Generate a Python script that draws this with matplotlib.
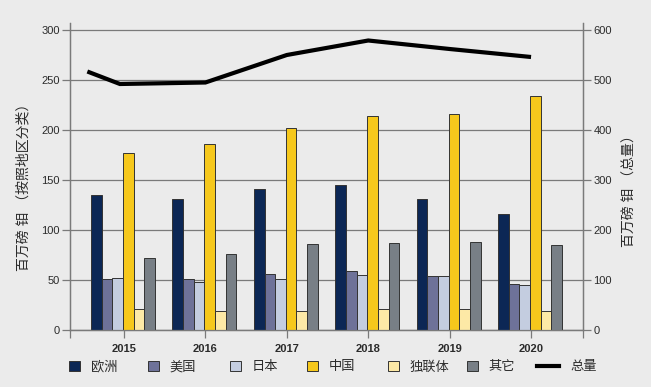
import numpy as np
import matplotlib
matplotlib.use("Agg")
import matplotlib.pyplot as plt
from matplotlib.patches import Patch
from matplotlib.lines import Line2D

plt.rcParams['font.family'] = ['Liberation Sans', 'Noto Sans CJK SC', 'DejaVu Sans']

# data
years = [2015, 2016, 2017, 2018, 2019, 2020]
series_names = ['欧洲', '美国', '日本', '中国', '独联体', '其它']
europe = [135, 131, 141, 145, 131, 116]
usa = [51, 51, 56, 59, 54, 46]
japan = [52, 48, 51, 55, 54, 45]
china = [177, 186, 202, 214, 216, 234]
cis = [21, 19, 19, 21, 21, 19]
other = [72, 76, 86, 87, 88, 85]
total_x = [2014.55, 2014.95, 2016, 2017, 2018, 2019, 2020]
total = [517, 492, 495, 550, 579, 562, 546]

colors = ['#0c2755', '#6e7299', '#c4cde0', '#f6c81c', '#fde9a6', '#787f86']
bg = '#ebebeb'
grid_col = '#7a7a7a'
text_col = '#2b2b2b'

fig = plt.figure(figsize=(6.51, 3.87), dpi=100, facecolor=bg)
ax = fig.add_axes([70 / 651, 1 - 330 / 387, 513 / 651, 307 / 387])
ax.set_facecolor(bg)
ax2 = ax.twinx()

width = 0.131
start = -0.405
x = np.array(years, dtype=float)
for i, vals in enumerate([europe, usa, japan, china, cis, other]):
    ax.bar(x + start + width * (i + 0.5), vals, width, color=colors[i],
           edgecolor='#333333', linewidth=0.7, zorder=3)

ax2.plot(total_x, total, color='black', linewidth=3, solid_capstyle='butt',
         solid_joinstyle='miter', zorder=4)

ax.set_xlim(2014.337, 2020.638)
ax.set_ylim(0, 307)
ax2.set_ylim(0, 614)
ax.set_yticks(range(0, 301, 50))
ax2.set_yticks(range(0, 601, 100))
ax.set_xticks(years)
ax.set_xticks([2014.337, 2020.638], minor=True)
ax.yaxis.grid(True, color=grid_col, linewidth=0.9, zorder=0)
ax.set_axisbelow(True)

for a in (ax, ax2):
    a.spines['top'].set_visible(False)
    for s in ('left', 'right', 'bottom'):
        a.spines[s].set_color(grid_col)
        a.spines[s].set_linewidth(0.9)
    a.tick_params(axis='both', which='both', colors=grid_col, labelcolor=text_col,
                  labelsize=8, length=6, width=0.9, pad=1.5)
ax.tick_params(axis='x', which='both', length=6, pad=4)

for lab in ax.get_xticklabels():
    lab.set_fontweight('bold')

ax.set_ylabel('百万磅 钼 （按照地区分类）', fontsize=10, color=text_col)
ax.yaxis.set_label_coords(-0.078, 0.475)
ax2.set_ylabel('百万磅 钼 （总量）', fontsize=10, color=text_col, rotation=90)
ax2.yaxis.set_label_coords(1.078, 0.465)

# legend, one entry per fixed slot
handles = [Patch(facecolor=c, edgecolor='#333333', linewidth=0.7) for c in colors]
handles.append(Line2D([], [], color='black', linewidth=3))
labels = series_names + ['总量']
slots = [69, 148, 230, 307, 388, 467, 537]
for h, l, px in zip(handles, labels, slots):
    is_line = isinstance(h, Line2D)
    fig.legend([h], [l], loc='center left', bbox_to_anchor=(px / 651, 1 - 367 / 387),
               frameon=False, fontsize=9.5, borderpad=0, borderaxespad=0,
               handlelength=1.7 if is_line else 0.85, handleheight=0.85,
               handletextpad=0.8, labelcolor=text_col)

fig.savefig('out.png', dpi=100, facecolor=bg)
